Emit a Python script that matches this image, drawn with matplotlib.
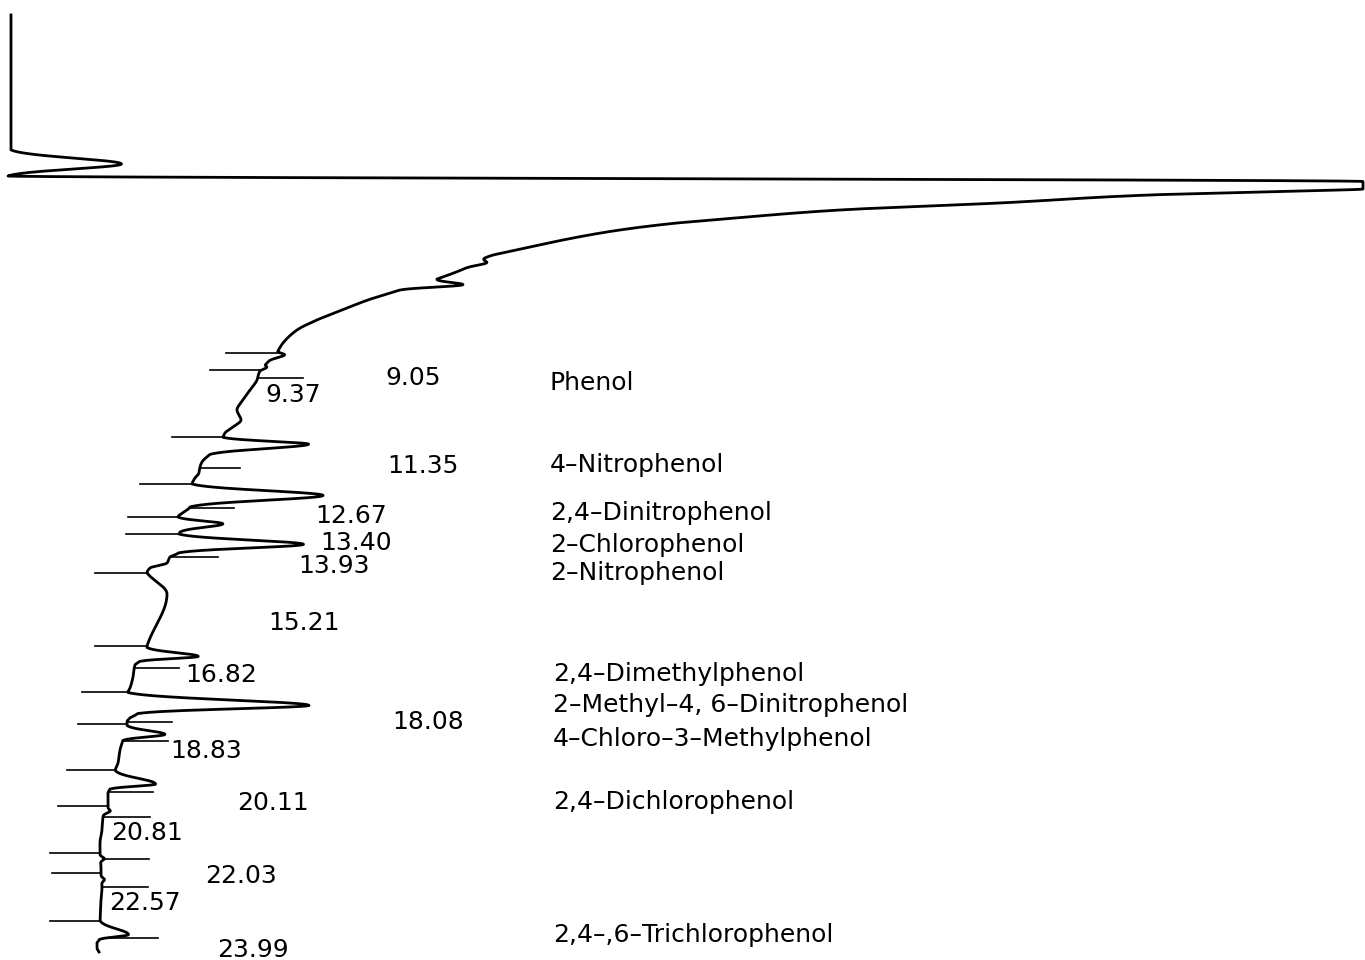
import numpy as np
import matplotlib
matplotlib.use("Agg")
import matplotlib.pyplot as plt

# Detector baseline (time in minutes, signal in recorder units)
base_time = [0.287, 3.715, 4.282, 4.437, 4.578, 4.772, 4.823, 4.926, 5.132, 5.313,
             5.519, 5.648, 5.828, 6.035, 6.344, 6.498, 6.808, 7.091, 7.375, 7.632,
             7.839, 8.148, 8.406, 8.741, 8.973, 9.230, 9.333, 9.514, 9.694, 9.952,
             10.210, 10.467, 10.725, 10.906, 11.060, 11.163, 11.498, 11.653, 11.808, 11.937,
             12.091, 12.220, 12.375, 12.967, 13.096, 13.225, 13.612, 13.663, 14.153, 14.256,
             14.411, 14.540, 14.668, 16.550, 16.937, 17.040, 17.349, 17.632, 17.735, 18.277,
             18.405, 18.509, 18.586, 18.973, 19.230, 19.565, 19.746, 20.235, 20.339, 20.699,
             20.957, 21.292, 21.627, 21.885, 22.272, 22.400, 22.761, 23.096, 23.638, 24.127,
             24.204, 24.333, 24.436]
base_signal = [11, 11, 10, 8, 1363, 1363, 1300, 1150, 1000, 840,
               735, 677, 620, 573, 517, 490, 466, 437, 400, 368,
               347, 317, 297, 283, 277, 268, 264, 259, 257, 250,
               243, 237, 241, 233, 225, 223, 216, 208, 202, 200,
               199, 195, 192, 190, 184, 178, 180, 179, 178, 170,
               167, 150, 147, 147, 140, 135, 133, 130, 128, 138,
               130, 127, 127, 123, 120, 118, 115, 110, 108, 108,
               103, 102, 100, 100, 101, 101, 102, 101, 100, 99,
               97, 97, 99]

# Peaks: retention time, height above baseline, rise / fall duration, sharpness
peak_time = [4.127, 6.679, 7.246, 9.05, 9.37, 11.35, 12.67, 13.40, 13.93,
             15.21, 16.82, 18.08, 18.83, 20.11, 20.81, 22.03, 22.57, 23.99]
peak_height = [111, 11, 45, 10, 4, 89, 132, 44, 125,
               20, 55, 174, 40, 44, 4, 4, 3, 29]
peak_rise = [0.361, 0.129, 0.155, 0.103, 0.077, 0.180, 0.296, 0.173, 0.265,
             0.541, 0.232, 0.330, 0.232, 0.361, 0.103, 0.103, 0.103, 0.361]
peak_fall = [0.309, 0.129, 0.129, 0.155, 0.103, 0.258, 0.296, 0.214, 0.224,
             1.340, 0.129, 0.211, 0.155, 0.129, 0.103, 0.103, 0.103, 0.129]
peak_sharp = [3, 3, 3, 3, 3, 3, 3, 3, 3,
              1.5, 3, 3, 3, 3, 3, 3, 3, 3]
full_scale = 1363

# Retention times printed on the chart, with their text placement (signal, time)
rt_labelled = [9.05, 9.37, 11.35, 12.67, 13.40, 13.93, 15.21, 16.82,
               18.08, 18.83, 20.11, 20.81, 22.03, 22.57, 23.99]
rt_text_x = [385, 265, 387, 315, 320, 298, 268, 185,
             392, 170, 237, 111, 205, 109, 217]
rt_text_t = [9.823, 10.261, 12.091, 13.380, 14.076, 14.668, 16.137, 17.478,
             18.689, 19.436, 20.777, 21.550, 22.658, 23.354, 24.560]

compounds = ["Phenol", "4\u2013Nitrophenol", "2,4\u2013Dinitrophenol",
             "2\u2013Chlorophenol", "2\u2013Nitrophenol", "2,4\u2013Dimethylphenol",
             "2\u2013Methyl\u20134, 6\u2013Dinitrophenol", "4\u2013Chloro\u20133\u2013Methylphenol",
             "2,4\u2013Dichlorophenol", "2,4\u2013,6\u2013Trichlorophenol"]
compound_x = [550, 550, 550, 550, 550, 553, 553, 553, 553, 553]
compound_t = [9.952, 12.065, 13.302, 14.127, 14.849, 17.452, 18.251, 19.127,
              20.751, 24.179]

# Integrator event marks: time and length, drawn left or right of the pen
mark_left_t = [8.999, 9.437, 11.163, 12.375, 13.225, 13.663, 14.668, 16.550,
               17.735, 18.560, 19.746, 20.674, 21.885, 22.400, 23.638]
mark_left_len = [55, 52, 51, 52, 50, 53, 52, 52, 46, 49, 48, 50, 50, 49, 50]
mark_right_t = [9.643, 11.962, 12.993, 14.256, 17.117, 18.509, 18.998, 20.313,
                20.957, 22.043, 22.761, 24.076]
mark_right_len = [45, 40, 45, 48, 45, 45, 45, 45, 47, 45, 46, 52]


def pchip(x, y, xi):
    # monotone cubic so the drifting baseline stays smooth without overshoot
    x = np.asarray(x, float)
    y = np.asarray(y, float)
    h = np.diff(x)
    delta = np.diff(y) / h
    m = np.zeros_like(y)
    for k in range(1, len(x) - 1):
        if delta[k - 1] * delta[k] > 0:
            w1 = 2 * h[k] + h[k - 1]
            w2 = h[k] + 2 * h[k - 1]
            m[k] = (w1 + w2) / (w1 / delta[k - 1] + w2 / delta[k])
    m[0] = delta[0]
    m[-1] = delta[-1]
    idx = np.clip(np.searchsorted(x, xi) - 1, 0, len(x) - 2)
    hh = h[idx]
    s = (xi - x[idx]) / hh
    h00 = 2 * s**3 - 3 * s**2 + 1
    h10 = s**3 - 2 * s**2 + s
    h01 = -2 * s**3 + 3 * s**2
    h11 = s**3 - s**2
    return h00 * y[idx] + h10 * hh * m[idx] + h01 * y[idx + 1] + h11 * hh * m[idx + 1]


def peak_profile(t, rt, h, rise, fall, c):
    d = np.where(t < rt, (rt - t) / rise, (t - rt) / fall)
    g = (np.exp(-c * d ** 2) - np.exp(-c)) / (1 - np.exp(-c))
    return np.where(d < 1, h * g, 0.0)


t = np.linspace(base_time[0], base_time[-1], 9000)
t = np.union1d(t, np.union1d(base_time, peak_time))
signal = pchip(base_time, base_signal, t)
for rt, h, r, f, c in zip(peak_time, peak_height, peak_rise, peak_fall, peak_sharp):
    signal = signal + peak_profile(t, rt, h, r, f, c)
signal = np.minimum(signal, full_scale)

fig = plt.figure(figsize=(13.65, 9.6), dpi=100)
ax = fig.add_axes([0, 0, 1, 1])
ax.set_xlim(0, 1365)
ax.set_ylim(24.643, -0.099)
ax.axis("off")

ax.plot(signal, t, color="black", lw=2.0, solid_joinstyle="round")

for mt, ml in zip(mark_left_t, mark_left_len):
    x1 = np.interp(mt, t, signal)
    ax.plot([x1 - ml, x1], [mt, mt], color="black", lw=1.2)
for mt, ml in zip(mark_right_t, mark_right_len):
    x0 = np.interp(mt, t, signal)
    ax.plot([x0, x0 + ml], [mt, mt], color="black", lw=1.2)

font = dict(family=["DejaVu Sans"], fontsize=18, color="black")
for rt, x, y in zip(rt_labelled, rt_text_x, rt_text_t):
    ax.text(x, y, f"{rt:.2f}", ha="left", va="baseline", **font)
for name, x, y in zip(compounds, compound_x, compound_t):
    ax.text(x, y, name, ha="left", va="baseline", **font)

fig.savefig("out.png", dpi=100, facecolor="white")
